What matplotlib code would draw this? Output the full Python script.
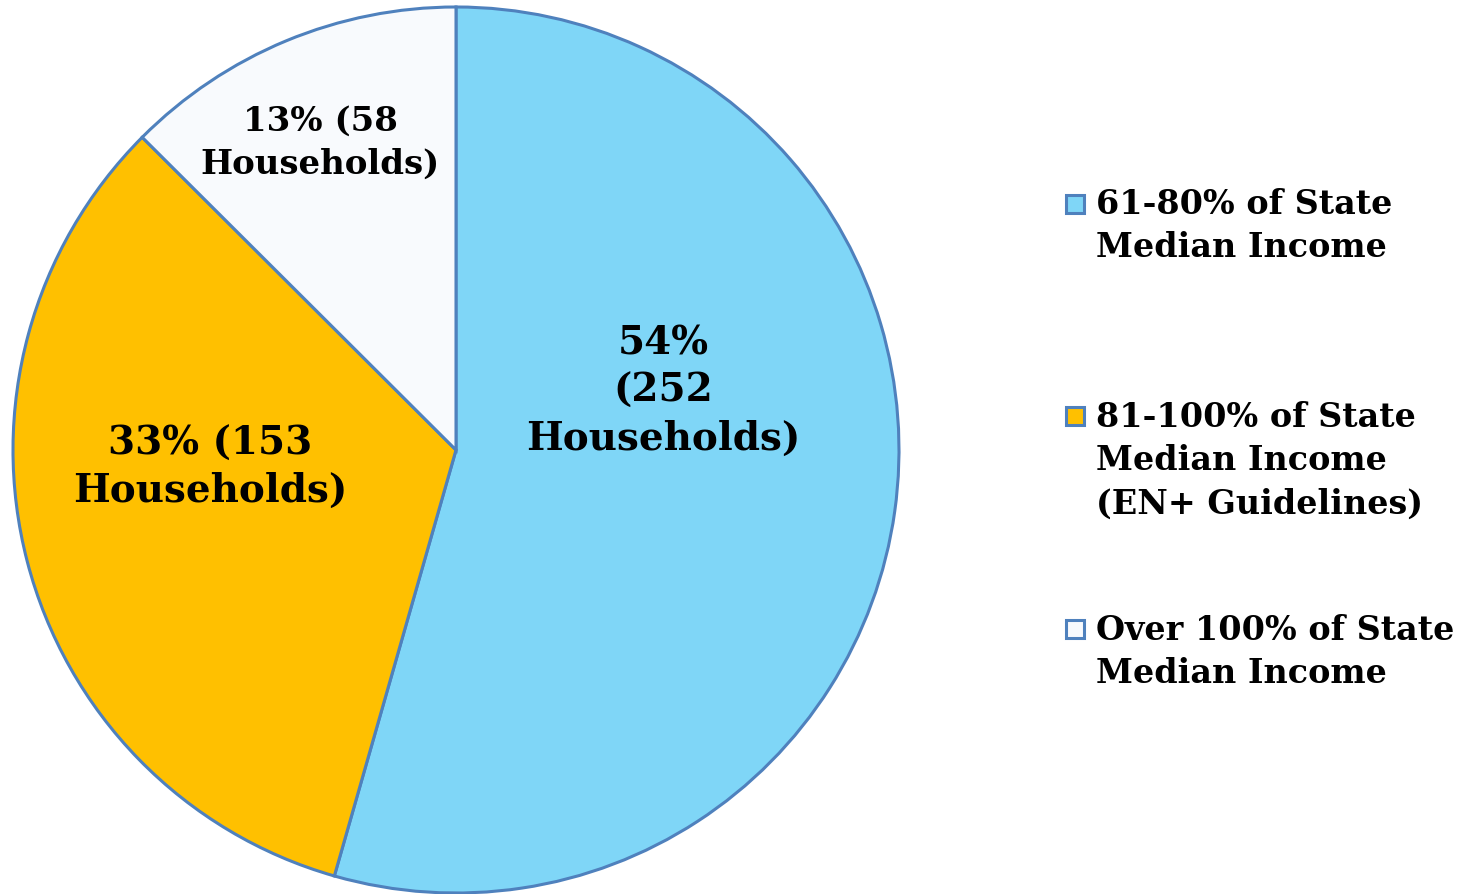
import matplotlib.pyplot as plt
from matplotlib.patches import Rectangle

# data
categories = ["61-80% of State\nMedian Income",
              "81-100% of State\nMedian Income\n(EN+ Guidelines)",
              "Over 100% of State\nMedian Income"]
households = [252, 153, 58]
percents = ["54%", "33%", "13%"]
colors = ["#7FD6F7", "#FFC000", "#F8FAFD"]
edge = "#4F81BD"

slice_labels = ["{}\n({}\nHouseholds)".format(percents[0], households[0]),
                "{} ({}\nHouseholds)".format(percents[1], households[1]),
                "{} ({}\nHouseholds)".format(percents[2], households[2])]

plt.rcParams['font.family'] = ['DejaVu Serif']
plt.rcParams['font.weight'] = 'bold'

W, H = 1469, 895
fig = plt.figure(figsize=(W / 100, H / 100), dpi=100)

cx, cy, r = 456, 451, 443
ax = fig.add_axes([(cx - r) / W, (H - cy - r) / H, 2 * r / W, 2 * r / H])
ax.pie(households, colors=colors, startangle=90, counterclock=False, radius=1,
       wedgeprops=dict(edgecolor=edge, linewidth=2.2))
ax.set_xlim(-1, 1)
ax.set_ylim(-1, 1)
ax.set_aspect('equal')
ax.axis('off')

# label positions in pixels (centre of text block), font size, line spacing
label_px = [(663, 391, 28, 1.33), (210, 467, 28, 1.3), (320, 143, 24.5, 1.4)]
for txt, (px, py, fs, ls) in zip(slice_labels, label_px):
    ax.text((px - cx) / r, (cy - py) / r, txt, ha='center', va='center',
            fontsize=fs, fontweight='bold', linespacing=ls)

# legend
leg_first = [205, 417, 630]
leg_mid = [226, 461, 652]
for lab, col, y0, ym in zip(categories, colors, leg_first, leg_mid):
    fig.patches.append(Rectangle((1066 / W, (H - y0 - 9) / H), 18 / W, 18 / H,
                                 transform=fig.transFigure, facecolor=col,
                                 edgecolor=edge, linewidth=2.2))
    fig.text(1096 / W, (H - ym) / H, lab, ha='left', va='center', fontsize=24,
             fontweight='bold', linespacing=1.4)

fig.savefig("out.png", dpi=100)
